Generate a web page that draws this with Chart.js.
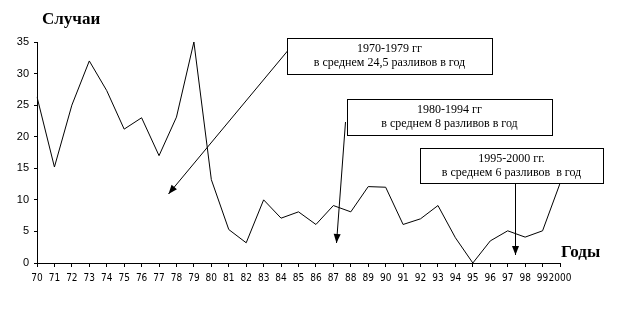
<!DOCTYPE html>
<html>
<head>
<meta charset="utf-8">
<script src="https://cdn.jsdelivr.net/npm/chart.js@4"></script>
<style>
  body { margin: 0; background: #fff; }
  canvas { display: block; }
</style>
</head>
<body>
<canvas id="chart-spills" width="626" height="310"></canvas>
<script>
// years on the axis, as they are printed
const yearLabels = ['70', '71', '72', '73', '74', '75', '76', '77', '78', '79',
    '80', '81', '82', '83', '84', '85', '86', '87', '88', '89',
    '90', '91', '92', '93', '94', '95', '96', '97', '98', '99', '2000'];

// number of spills per year
const spillCases = [26.3, 15.2, 25, 32, 27.3, 21.2, 23, 17, 23.1, 35,
    13.2, 5.3, 3.2, 10, 7.1, 8.1, 6.1, 9.1, 8.1, 12.1,
    12, 6.1, 7, 9.1, 4, 0, 3.5, 5.1, 4.1, 5.1, 12.6];

const yMin = 0;
const yMax = 35;
const yStep = 5;

const yTitle = 'Случаи';
const xTitle = 'Годы';

const notes = [
    { lines: ['1970-1979 гг', 'в среднем 24,5 разливов в год'], box: [287, 38, 205, 36], arrow: [287, 51, 168, 194] },
    { lines: ['1980-1994 гг', 'в среднем 8 разливов в год'], box: [347, 99, 205, 36], arrow: [345, 122, 336, 243] },
    { lines: ['1995-2000 гг.', 'в среднем 6 разливов  в год'], box: [420, 148, 183, 35], arrow: [515, 183, 515, 255] }
];

function drawArrow(ctx, x1, y1, x2, y2) {
    ctx.beginPath();
    ctx.moveTo(x1, y1);
    ctx.lineTo(x2, y2);
    ctx.stroke();
    const ang = Math.atan2(y2 - y1, x2 - x1);
    const len = 9, half = 3.5;
    ctx.beginPath();
    ctx.moveTo(x2, y2);
    ctx.lineTo(x2 - len * Math.cos(ang) + half * Math.sin(ang), y2 - len * Math.sin(ang) - half * Math.cos(ang));
    ctx.lineTo(x2 - len * Math.cos(ang) - half * Math.sin(ang), y2 - len * Math.sin(ang) + half * Math.cos(ang));
    ctx.closePath();
    ctx.fill();
}

const notesPlugin = {
    id: 'notes',
    afterDraw(chart) {
        const ctx = chart.ctx;
        ctx.save();
        ctx.fillStyle = '#000';
        ctx.font = 'bold 17px "Liberation Serif"';
        ctx.textBaseline = 'alphabetic';
        ctx.textAlign = 'left';
        ctx.fillText(yTitle, 42, 24);
        ctx.fillText(xTitle, 561, 257);

        ctx.strokeStyle = '#000';
        ctx.lineWidth = 1;
        notes.forEach(n => {
            ctx.fillStyle = '#000';
            drawArrow(ctx, n.arrow[0] + 0.5, n.arrow[1], n.arrow[2] + 0.5, n.arrow[3]);
            const [bx, by, bw, bh] = n.box;
            ctx.fillStyle = '#fff';
            ctx.fillRect(bx, by, bw, bh);
            ctx.strokeRect(bx + 0.5, by + 0.5, bw, bh);
            ctx.fillStyle = '#000';
            ctx.font = '12px "Liberation Serif"';
            ctx.textAlign = 'center';
            ctx.textBaseline = 'middle';
            ctx.fillText(n.lines[0], bx + bw / 2, by + 11);
            ctx.fillText(n.lines[1], bx + bw / 2, by + 25);
        });
        ctx.restore();
    }
};

const ctx = document.getElementById('chart-spills').getContext('2d');
const myChart = new Chart(ctx, {
    type: 'line',
    data: {
        labels: yearLabels,
        datasets: [{
            label: 'Случаи',
            data: spillCases,
            borderColor: '#000',
            borderWidth: 1,
            pointRadius: 0,
            tension: 0,
            fill: false
        }]
    },
    options: {
        responsive: false,
        animation: false,
        devicePixelRatio: 1,
        layout: {
            padding: { top: 42, right: 66, bottom: 0, left: 0 }
        },
        plugins: {
            legend: { display: false },
            tooltip: { enabled: false }
        },
        scales: {
            x: {
                type: 'category',
                offset: false,
                afterFit: axis => { axis.height = 47; },
                border: { color: '#000', width: 1 },
                grid: { drawOnChartArea: false, color: '#000', tickLength: 4 },
                ticks: {
                    autoSkip: false,
                    maxRotation: 0,
                    padding: 5,
                    color: '#000',
                    font: { family: '"DejaVu Sans Condensed", "Liberation Sans"', size: 10 }
                }
            },
            y: {
                min: yMin,
                max: yMax,
                afterFit: axis => { axis.width = 37; },
                border: { color: '#000', width: 1 },
                grid: { drawOnChartArea: false, color: '#000', tickLength: 3 },
                ticks: {
                    stepSize: yStep,
                    padding: 5,
                    color: '#000',
                    font: { family: 'Liberation Sans', size: 11 }
                }
            }
        }
    },
    plugins: [notesPlugin]
});
</script>
</body>
</html>
